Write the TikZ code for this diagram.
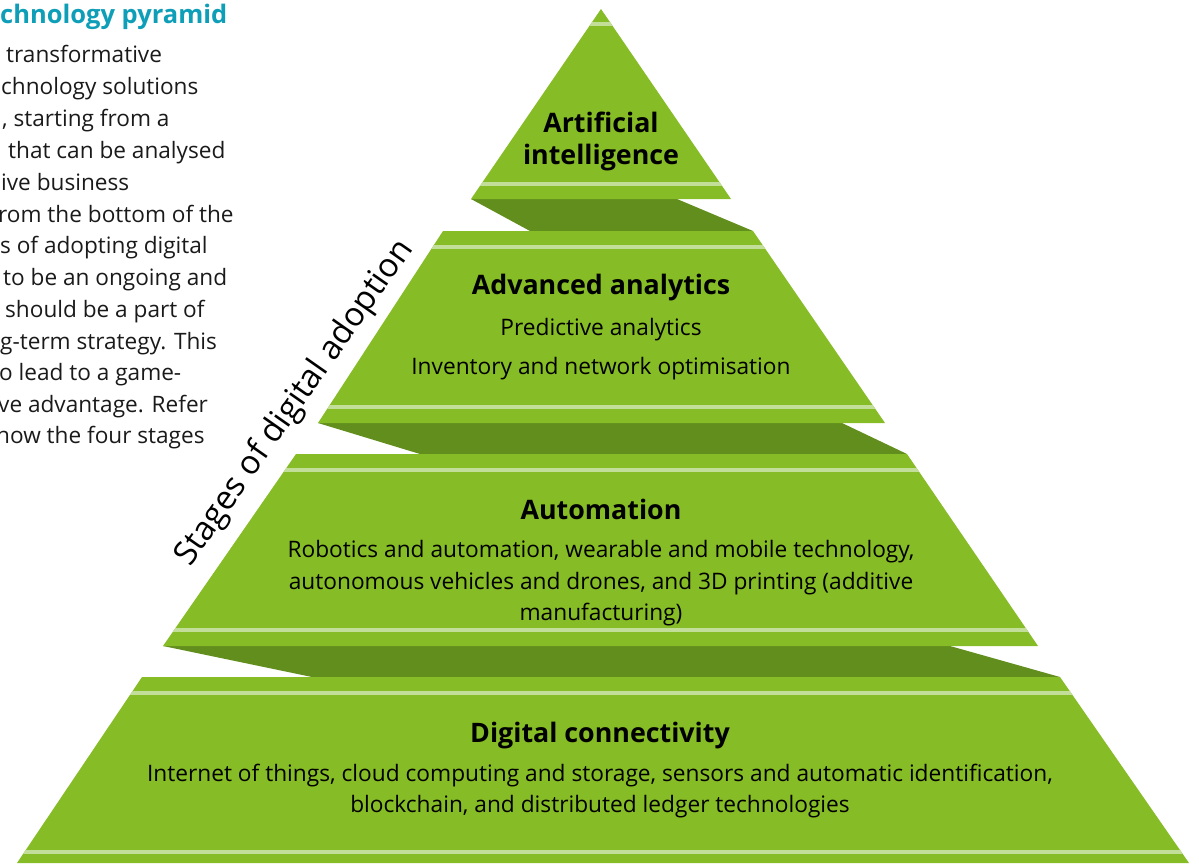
\documentclass[tikz,border=0pt]{standalone}
\usepackage{fontspec}
\setmainfont{Open Sans}
\definecolor{pgreen}{HTML}{86BC25}
\definecolor{pdark}{HTML}{628E1D}
\definecolor{pstripe}{HTML}{C3DE98}
\definecolor{pteal}{HTML}{0E9EB8}
\definecolor{ptext}{HTML}{1A1A1A}
\tikzset{
  layer/.style={fill=pgreen},
  band/.style={fill=pdark},
  stripe/.style={fill=pstripe},
  head/.style={font=\bfseries\fontsize{26.8}{31}\selectfont, anchor=base, inner sep=0pt, text=black},
  body/.style={font=\fontsize{22.7}{32}\selectfont, anchor=base, inner sep=0pt, text=black},
  side/.style={font=\fontsize{22.6}{32}\selectfont, anchor=base west, inner sep=0pt, text=ptext},
  sidetitle/.style={font=\bfseries\fontsize{25.5}{32}\selectfont, anchor=base west, inner sep=0pt, text=pteal},
  stageslbl/.style={font=\fontsize{33}{38}\selectfont, inner sep=0pt, text=black}
}
\begin{document}
\begin{tikzpicture}[x=1pt,y=-1pt]
\useasboundingbox (0,0) rectangle (1199,863);
\clip (0,0) rectangle (1199,863);

% connecting bands
\fill[band] (471,199) -- (677,199) -- (753,231) -- (530,231) -- cycle;
\fill[band] (318,423) -- (842,423) -- (907,454) -- (420,454) -- cycle;
\fill[band] (163,646) -- (950,646) -- (1060,677) -- (312,677) -- cycle;

% top triangle
\fill[layer] (601,9) -- (731,199) -- (471,199) -- cycle;
\begin{scope}
  \clip (601,9) -- (731,199) -- (471,199) -- cycle;
  \fill[stripe] (0,22) rectangle (1199,26);
  \fill[stripe] (0,182) rectangle (1199,186);
\end{scope}

% layer 2
\fill[layer] (443,231) -- (753,231) -- (885,423) -- (318,423) -- cycle;
\begin{scope}
  \clip (443,231) -- (753,231) -- (885,423) -- (318,423) -- cycle;
  \fill[stripe] (0,245) rectangle (1199,249);
  \fill[stripe] (0,405) rectangle (1199,409);
\end{scope}

% layer 3
\fill[layer] (296,454) -- (907,454) -- (1038,646) -- (163,646) -- cycle;
\begin{scope}
  \clip (296,454) -- (907,454) -- (1038,646) -- (163,646) -- cycle;
  \fill[stripe] (0,468) rectangle (1199,472);
  \fill[stripe] (0,628) rectangle (1199,632);
\end{scope}

% layer 4
\fill[layer] (142,677) -- (1060,677) -- (1189,863) -- (17,863) -- cycle;
\begin{scope}
  \clip (142,677) -- (1060,677) -- (1189,863) -- (17,863) -- cycle;
  \fill[stripe] (0,691) rectangle (1199,695);
  \fill[stripe] (0,850) rectangle (1199,854);
\end{scope}

% layer texts
\node[head] (ai1) at (601,132) {Artificial};
\node[head] (ai2) at (601,164) {intelligence};

\node[head] (aa) at (601,294) {Advanced analytics};
\node[body] (aa1) at (601,335) {Predictive analytics};
\node[body] (aa2) at (601,374) {Inventory and network optimisation};

\node[head] (au) at (601,519) {Automation};
\node[body] (au1) at (601,557) {Robotics and automation, wearable and mobile technology,};
\node[body] (au2) at (601,589) {autonomous vehicles and drones, and 3D printing (additive};
\node[body] (au3) at (601,620) {manufacturing)};

\node[head] (dc) at (600,742) {Digital connectivity};
\node[body] (dc1) at (600,781) {Internet of things, cloud computing and storage, sensors and automatic identification,};
\node[body] (dc2) at (600,812) {blockchain, and distributed ledger technologies};

% side label
\node[stageslbl, rotate=55] (stages) at (295,403) {Stages of digital adoption};

% left text (cut at the left edge)
\node[sidetitle] (s0) at (0,23) {chnology pyramid};
\node[side] (s1) at (6,62) {transformative};
\node[side] (s2) at (1,94) {chnology solutions};
\node[side] (s3) at (2,126) {, starting from a};
\node[side] (s4) at (8,158) {that can be analysed};
\node[side] (s5) at (1,190) {ive business};
\node[side] (s6) at (-2,222) {rom the bottom of the};
\node[side] (s7) at (0,253) {s of adopting digital};
\node[side] (s8) at (3,285) {to be an ongoing and};
\node[side] (s9) at (5,317) {should be a part of};
\node[side] (s10) at (0,349) {g-term strategy. This};
\node[side] (s11) at (-1,380) {o lead to a game-};
\node[side] (s12) at (-2,412) {ve advantage. Refer};
\node[side] (s13) at (-4,443) {how the four stages};
\end{tikzpicture}
\end{document}
